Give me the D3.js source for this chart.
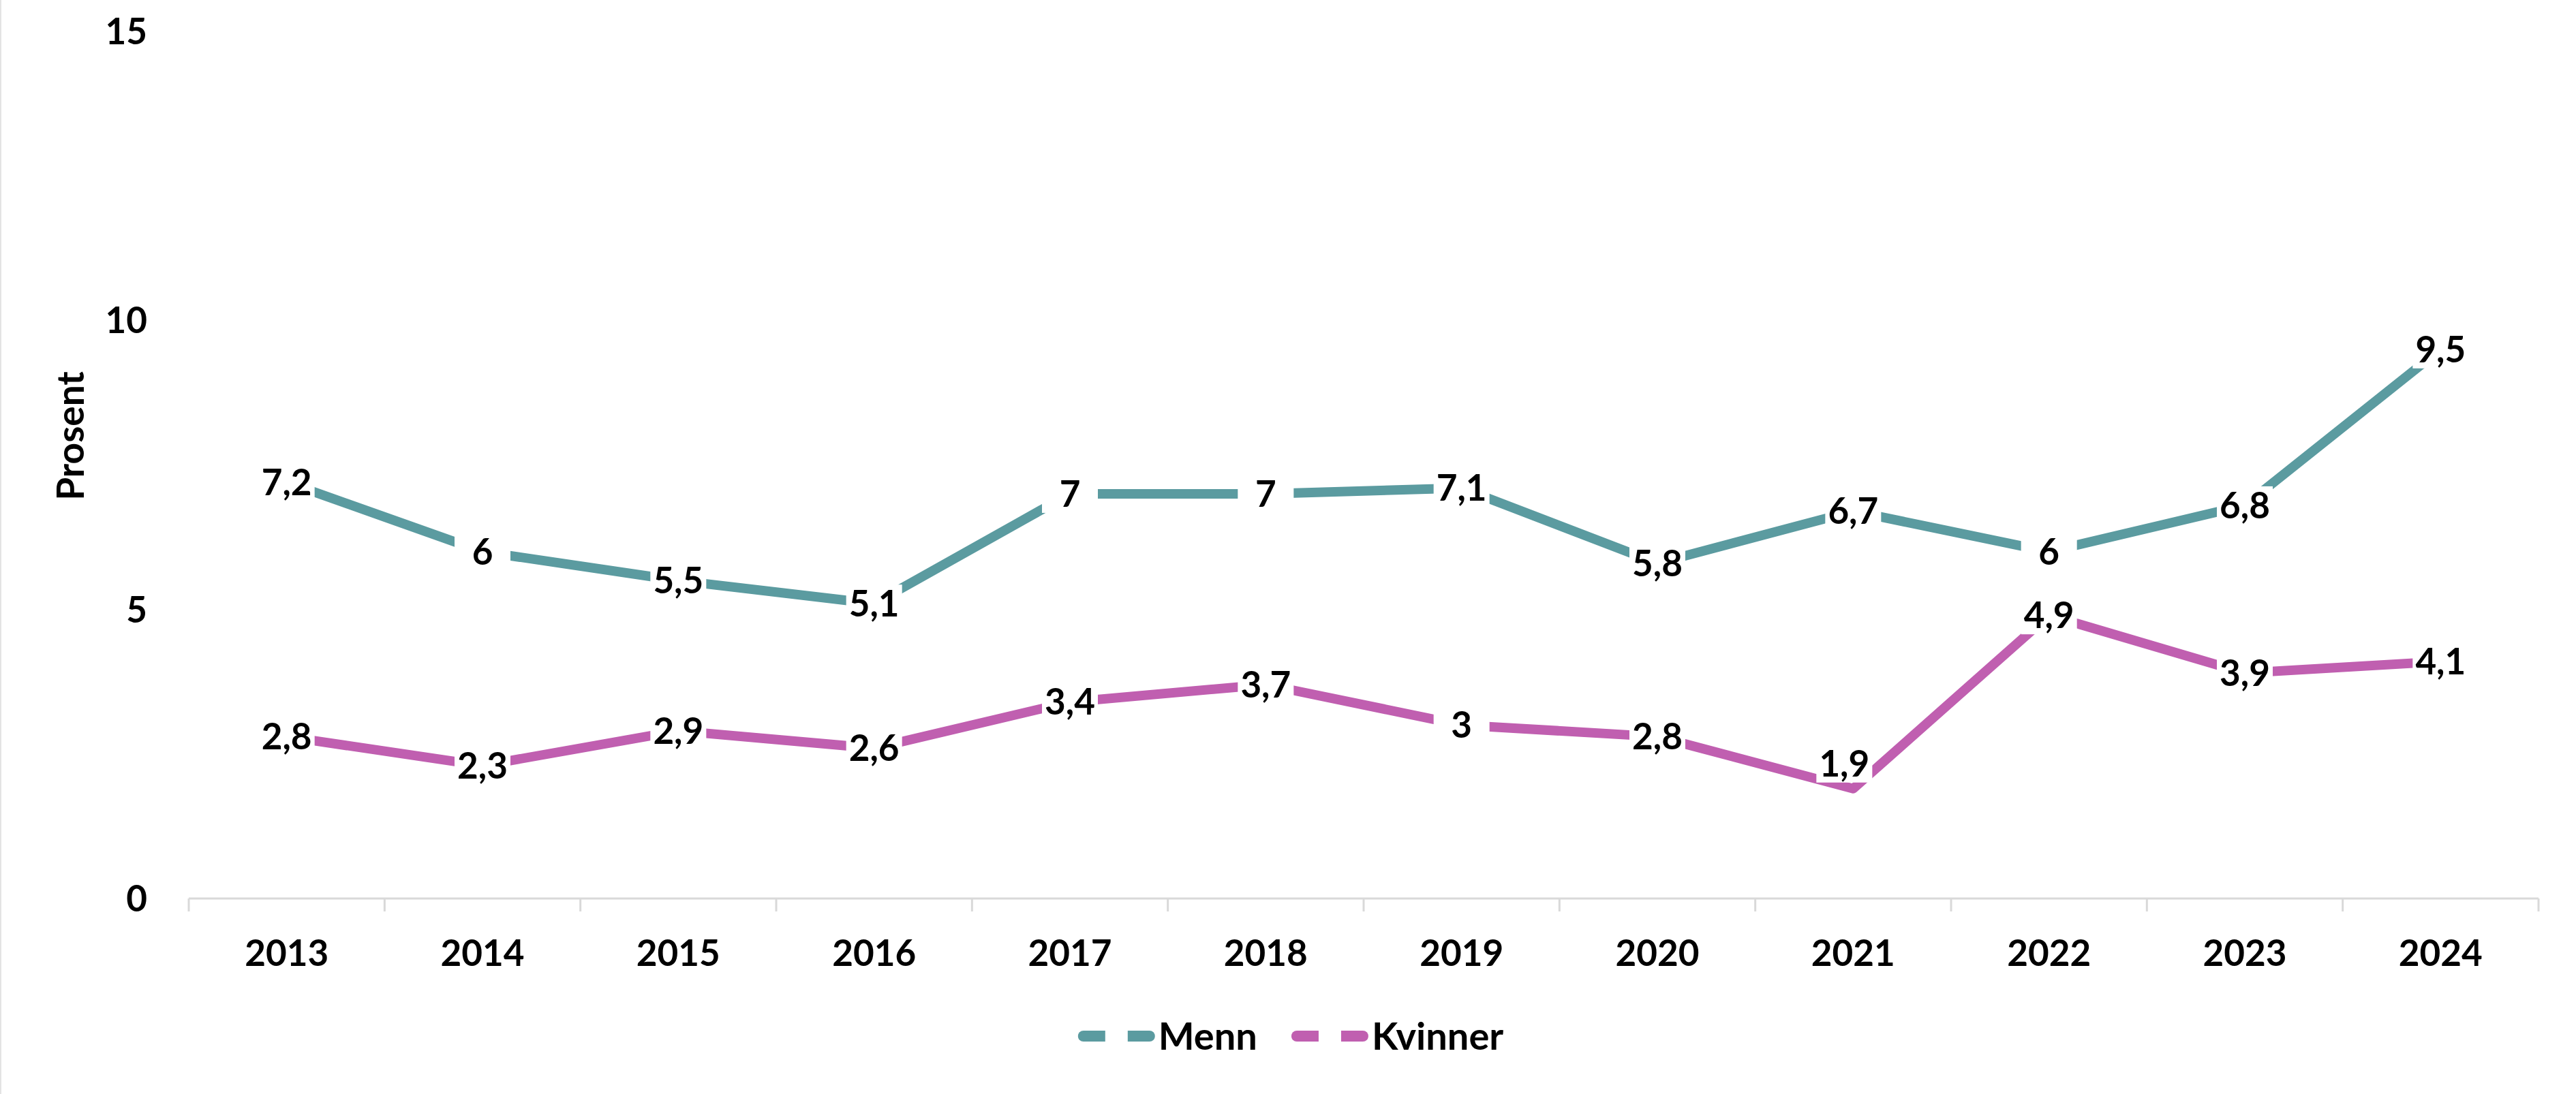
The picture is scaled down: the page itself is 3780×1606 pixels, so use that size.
<!DOCTYPE html>
<html>
<head>
<meta charset="utf-8">
<script src="https://cdn.jsdelivr.net/npm/d3@7"></script>
<style>
  html, body { margin: 0; padding: 0; background: #ffffff; }
  svg { display: block; }
</style>
</head>
<body>
<script>
// ---- data ----
const years = ["2013","2014","2015","2016","2017","2018","2019","2020","2021","2022","2023","2024"];
const menn = [7.2, 6, 5.5, 5.1, 7, 7, 7.1, 5.8, 6.7, 6, 6.8, 9.5];
const kvinner = [2.8, 2.3, 2.9, 2.6, 3.4, 3.7, 3, 2.8, 1.9, 4.9, 3.9, 4.1];
const seriesNames = ["Menn", "Kvinner"];
const yTicks = [0, 5, 10, 15];
const yTitle = "Prosent";

// ---- layout / style ----
const W = 3780, H = 1606;
const colors = {"Menn": "#5B9BA0", "Kvinner": "#C05FB0"};
const FONT = "Lato, 'Open Sans', sans-serif";
const tickFS = 53, labelFS = 53, legendFS = 56, titleFS = 55;

const svg = d3.select("body").append("svg")
  .attr("width", W).attr("height", H)
  .attr("viewBox", `0 0 ${W} ${H}`);

svg.append("rect").attr("width", W).attr("height", H).attr("fill", "#fff");
svg.append("line").attr("x1", 1).attr("x2", 1).attr("y1", 0).attr("y2", H)
  .attr("stroke", "#E3E3E3").attr("stroke-width", 2);

const x = d3.scaleBand().domain(years).range([277, 3725]).padding(0);
const y = d3.scaleLinear().domain([0, 15]).range([1319, 46]);
const cx = d => x(d) + x.bandwidth() / 2;
const fmt = v => String(v).replace(".", ",");

// y tick labels
svg.append("g").selectAll("text").data(yTicks).join("text")
  .attr("x", 216).attr("y", d => y(d) + tickFS * 0.358)
  .attr("text-anchor", "end")
  .attr("font-family", FONT).attr("font-weight", 700).attr("font-size", tickFS)
  .attr("fill", "#000").text(d => d);

// y title
svg.append("text")
  .attr("transform", `translate(123,640) rotate(-90)`)
  .attr("text-anchor", "middle")
  .attr("font-family", FONT).attr("font-weight", 700).attr("font-size", titleFS)
  .attr("fill", "#000").text(yTitle);

// x axis
const xAxis = d3.axisBottom(x).tickSize(0).tickPadding(0);
const gx = svg.append("g").attr("transform", `translate(0,${y(0)})`).call(xAxis);
gx.select(".domain").remove();
gx.selectAll(".tick text")
  .attr("dy", null)
  .attr("y", 1399 - y(0) + tickFS * 0.358)
  .attr("font-family", FONT).attr("font-weight", 700).attr("font-size", tickFS)
  .attr("fill", "#000");

const edges = years.map(d => x(d)).concat([x(years[years.length - 1]) + x.bandwidth()]);
svg.append("g").selectAll("line").data(edges).join("line")
  .attr("x1", d => d).attr("x2", d => d)
  .attr("y1", y(0)).attr("y2", y(0) + 19)
  .attr("stroke", "#D9D9D9").attr("stroke-width", 3);
svg.append("line")
  .attr("x1", x.range()[0]).attr("x2", x.range()[1])
  .attr("y1", y(0)).attr("y2", y(0))
  .attr("stroke", "#D9D9D9").attr("stroke-width", 3);

// series
const series = [
  {name: "Menn", values: menn},
  {name: "Kvinner", values: kvinner}
];
const line = d3.line().x((d, i) => cx(years[i])).y(d => y(d));
svg.append("g").selectAll("path").data(series).join("path")
  .attr("d", s => line(s.values))
  .attr("fill", "none")
  .attr("stroke", s => colors[s.name])
  .attr("stroke-width", 14)
  .attr("stroke-linejoin", "round");

// data labels (centered, white box)
const labelShift = {"Kvinner-2021": [-13, -37]};
const gl = svg.append("g");
series.forEach(s => {
  s.values.forEach((v, i) => {
    const sh = labelShift[s.name + "-" + years[i]] || [0, 0];
    const px = cx(years[i]) + sh[0], py = y(v) + sh[1];
    const g = gl.append("g");
    const rect = g.append("rect").attr("fill", "#fff");
    const t = g.append("text")
      .attr("x", px).attr("y", py + labelFS * 0.358)
      .attr("text-anchor", "middle")
      .attr("font-family", FONT).attr("font-weight", 700).attr("font-size", labelFS)
      .attr("fill", "#000").text(fmt(v));
    const tw = t.node().getComputedTextLength();
    const bw = Math.max(tw + 6, 82), bh = 56;
    rect.attr("x", px - bw / 2).attr("y", py - bh / 2).attr("width", bw).attr("height", bh);
  });
});

// legend
const lg = svg.append("g");
let lx = 0;
seriesNames.forEach(n => {
  const g = lg.append("g");
  g.append("line").attr("x1", lx + 8).attr("x2", lx + 105)
    .attr("y1", 0).attr("y2", 0)
    .attr("stroke", colors[n]).attr("stroke-width", 16).attr("stroke-linecap", "round");
  g.append("rect").attr("x", lx + 40).attr("y", -10).attr("width", 33).attr("height", 20).attr("fill", "#fff");
  const t = g.append("text").attr("x", lx + 118).attr("y", legendFS * 0.358)
    .attr("font-family", FONT).attr("font-weight", 700).attr("font-size", legendFS)
    .attr("fill", "#000").text(n);
  const tw = t.node().getComputedTextLength();
  lx += 118 + tw + 50;
});
const totalW = lx - 50;
lg.attr("transform", `translate(${1894 - totalW / 2},1521)`);
</script>
</body>
</html>
